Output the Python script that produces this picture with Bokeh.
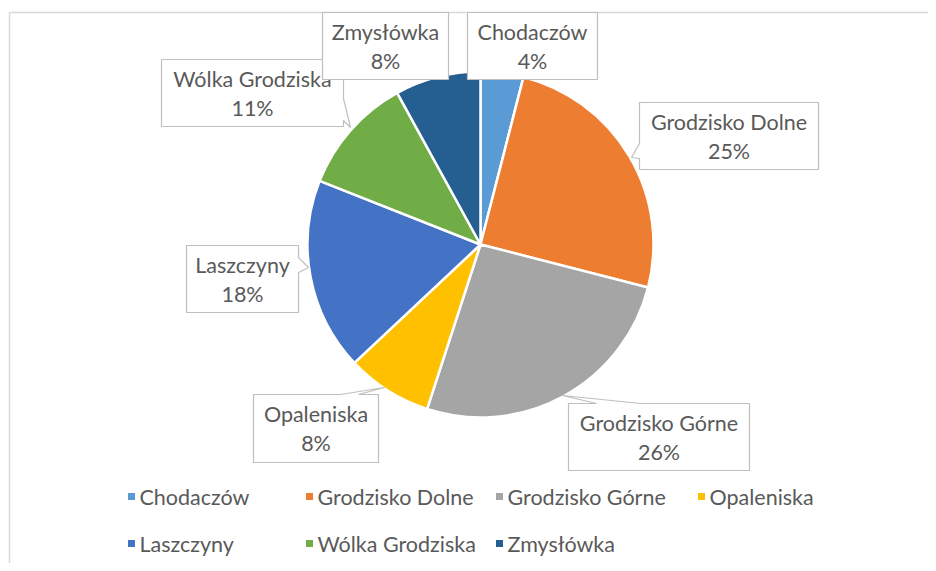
from bokeh.plotting import figure
from bokeh.models import Range1d, ColumnDataSource
from bokeh.core.properties import value
from bokeh.embed import file_html
from bokeh.resources import INLINE
import math

# ---- data ----
categories = ["Chodaczów", "Grodzisko Dolne", "Grodzisko Górne", "Opaleniska",
              "Laszczyny", "Wólka Grodziska", "Zmysłówka"]
shares = [4, 25, 26, 8, 18, 11, 8]
colors = ["#5B9BD5", "#ED7D31", "#A5A5A5", "#FFC000", "#4472C4", "#70AD47", "#255E91"]

# ---- layout (picture pixel coordinates) ----
W, H = 928, 563
def sx(X):
    return X
def sy(Y):
    return H - Y

CX, CY, R = 480, 244, 173
FONT = "Lato"
FSIZE = "21.5px"
TXT = "#595959"

# callout boxes: (x0, y0, x1, y1, side, b0, b1, tipx, tipy)
boxes = {
    "Chodaczów": (467, 12, 597, 79, None, 0, 0, 0, 0),
    "Grodzisko Dolne": (639, 102, 818, 169, "left", 143, 158, 631, 157),
    "Grodzisko Górne": (568, 403, 749, 470, "top", 596, 640, 562, 395),
    "Opaleniska": (253, 394, 378, 462, "top", 340, 358, 384, 387),
    "Laszczyny": (186, 245, 298, 312, "right", 257, 272, 308, 267),
    "Wólka Grodziska": (161, 59, 343, 126, "right", 98, 120, 350, 127),
    "Zmysłówka": (322, 12, 448, 79, None, 0, 0, 0, 0),
}
draw_order = ["Wólka Grodziska", "Zmysłówka", "Chodaczów", "Grodzisko Dolne",
              "Grodzisko Górne", "Opaleniska", "Laszczyny"]

legend_pos = [(131, 496), (309, 496), (499, 496), (701, 496),
              (131, 543), (309, 543), (499, 543)]

p = figure(width=W, height=H, output_backend="svg", toolbar_location=None,
           x_range=Range1d(0, W), y_range=Range1d(0, H), min_border=0)
p.axis.visible = False
p.grid.visible = False
p.outline_line_color = None
p.background_fill_color = "white"

# chart border
p.line([sx(9), sx(9)], [sy(12), sy(600)], line_color="#D9D9D9", line_width=1.5)
p.line([sx(9), sx(960)], [sy(12), sy(12)], line_color="#D9D9D9", line_width=1.5)

# pie wedges: clockwise from 12 o'clock
total = float(sum(shares))
starts, ends = [], []
cum = 0.0
for s in shares:
    a0 = math.pi / 2 - 2 * math.pi * (cum + s) / total
    a1 = math.pi / 2 - 2 * math.pi * cum / total
    starts.append(a0)
    ends.append(a1)
    cum += s
src = ColumnDataSource(dict(start=starts, end=ends, color=colors, cat=categories))
p.wedge(x=sx(CX), y=sy(CY), radius=R, start_angle="start", end_angle="end",
        fill_color="color", line_color="white", line_width=2.5, source=src)

def callout(x0, y0, x1, y1, side, b0, b1, tx, ty):
    pts = [(x0, y0)]
    if side == "top":
        pts += [(b0, y0), (tx, ty), (b1, y0)]
    pts.append((x1, y0))
    if side == "right":
        pts += [(x1, b0), (tx, ty), (x1, b1)]
    pts.append((x1, y1))
    if side == "bottom":
        pts += [(b1, y1), (tx, ty), (b0, y1)]
    pts.append((x0, y1))
    if side == "left":
        pts += [(x0, b1), (tx, ty), (x0, b0)]
    return [sx(a) for a, b in pts], [sy(b) for a, b in pts]

share_of = dict(zip(categories, shares))
for name in draw_order:
    x0, y0, x1, y1, side, b0, b1, tx, ty = boxes[name]
    xs, ys = callout(x0, y0, x1, y1, side, b0, b1, tx, ty)
    p.patch(xs, ys, fill_color="white", line_color="#BFBFBF", line_width=1.2)
    xc = (x0 + x1) / 2
    yc = (y0 + y1) / 2
    p.text(x=[sx(xc)], y=[sy(yc - 14.5)], text=[name], text_align="center",
           text_baseline="middle", text_font=value(FONT), text_font_size=FSIZE,
           text_color=TXT)
    p.text(x=[sx(xc)], y=[sy(yc + 14.5)], text=[f"{share_of[name]}%"],
           text_align="center", text_baseline="middle", text_font=value(FONT),
           text_font_size=FSIZE, text_color=TXT)

# legend
lx = [sx(a) for a, b in legend_pos]
ly = [sy(b) for a, b in legend_pos]
p.rect(x=lx, y=ly, width=7, height=7, fill_color=colors, line_color=None)
p.text(x=[v + 8 for v in lx], y=ly, text=categories, text_align="left",
       text_baseline="middle", text_font=value(FONT), text_font_size=FSIZE,
       text_color=TXT)

open("out.html", "w").write(file_html(p, INLINE))
